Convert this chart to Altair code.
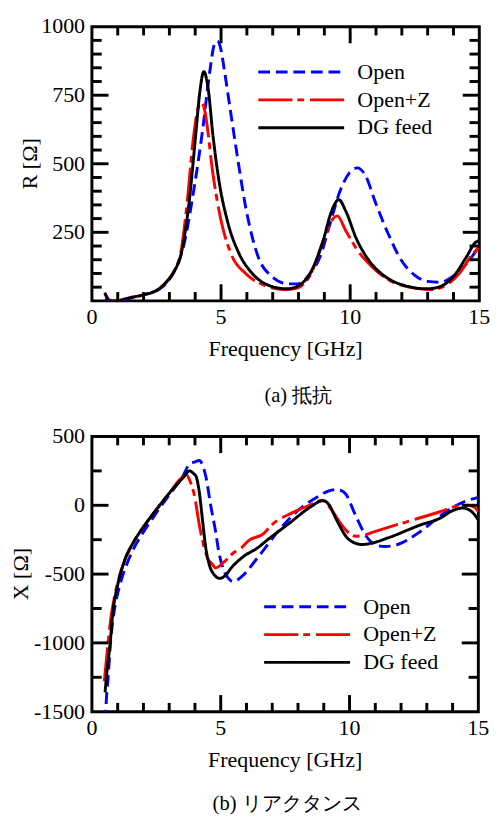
import altair as alt
import pandas as pd

FONT = "'Liberation Serif', 'Times New Roman', 'DejaVu Serif', serif"
SERIES = ["Open", "Open+Z", "DG feed"]
COLORS = ["#0000ff", "#ff0000", "#000000"]
DASHES = [[12, 6], [35, 5, 7, 6], [1, 0]]

# ---- panel (a): resistance R [Ohm] ----
A_OPEN_F = [0.5, 1.0, 1.5, 2.0, 2.6, 3.17, 3.55, 3.93, 4.3, 4.56, 4.74, 4.86, 5.0, 5.12, 5.44, 5.69, 5.94, 6.44, 6.95, 7.58, 7.95, 8.46, 8.83, 9.21, 9.59, 9.97, 10.28, 10.6, 10.97, 11.48, 11.98, 12.48, 12.99, 13.49, 13.99, 14.5, 15.0]
A_OPEN_R = [5, 0, 10, 22, 42, 105, 200, 396, 633, 834, 935, 948, 915, 846, 645, 491, 349, 160, 90, 62, 62, 101, 160, 278, 396, 467, 485, 455, 361, 243, 148, 95, 71, 68, 90, 135, 200]
A_OPENZ_F = [0.5, 0.75, 1.0, 1.5, 2.0, 2.6, 3.0, 3.2, 3.45, 3.7, 3.92, 4.1, 4.23, 4.33, 4.43, 4.68, 4.93, 5.44, 5.94, 6.69, 7.45, 7.95, 8.46, 8.96, 9.34, 9.5, 9.84, 10.34, 10.85, 11.48, 12.23, 13.11, 13.74, 14.24, 14.75, 15.0]
A_OPENZ_R = [25, -5, 0, 12, 22, 44, 82, 112, 180, 370, 586, 700, 724, 710, 660, 467, 325, 160, 101, 56, 41, 47, 95, 219, 300, 310, 254, 177, 124, 77, 51, 41, 59, 101, 172, 195]
A_DG_F = [0.5, 0.75, 1.0, 1.5, 2.0, 2.6, 3.0, 3.2, 3.45, 3.75, 4.0, 4.18, 4.33, 4.5, 4.68, 4.93, 5.25, 5.7, 6.2, 6.95, 7.55, 7.95, 8.45, 8.95, 9.27, 9.56, 9.84, 10.22, 10.72, 11.35, 12.0, 13.0, 13.5, 14.0, 14.5, 14.85, 15.0]
A_DG_R = [30, -5, 0, 12, 22, 44, 82, 110, 170, 349, 586, 763, 836, 775, 609, 432, 290, 172, 101, 53, 44, 53, 101, 219, 325, 369, 325, 231, 148, 89, 59, 44, 53, 89, 160, 213, 220]

# ---- panel (b): reactance X [Ohm] ----
B_OPEN_F = [0.5, 0.55, 0.63, 0.72, 0.82, 1.0, 1.14, 1.52, 2.02, 2.53, 3.03, 3.54, 3.79, 4.0, 4.17, 4.3, 4.42, 4.61, 4.8, 4.92, 5.11, 5.3, 5.49, 5.81, 6.44, 7.33, 8.08, 8.84, 9.2, 9.47, 9.7, 9.85, 10.23, 10.61, 10.98, 11.36, 11.87, 12.75, 13.39, 14.02, 14.5, 15.0]
B_OPEN_X = [-1700, -1450, -1250, -1000, -826, -640, -543, -354, -189, -47, 83, 215, 300, 315, 325, 290, 211, 0, -190, -332, -470, -531, -555, -519, -379, -166, -25, 70, 105, 113, 105, 82, -72, -214, -285, -300, -285, -190, -96, -13, 30, 58]
B_OPENZ_F = [0.48, 0.6, 0.75, 0.88, 1.14, 1.64, 2.02, 2.53, 3.03, 3.4, 3.66, 3.8, 3.98, 4.17, 4.36, 4.5, 4.67, 4.8, 5.11, 5.5, 5.81, 6.06, 6.69, 6.94, 7.83, 8.59, 8.9, 9.22, 9.6, 9.97, 10.23, 10.5, 11.0, 12.25, 13.51, 14.2, 14.6, 14.85, 15.0]
B_OPENZ_X = [-1280, -1050, -800, -661, -472, -260, -150, -24, 94, 185, 223, 180, 70, -143, -308, -390, -427, -455, -415, -345, -308, -260, -202, -150, -50, 12, 35, -12, -118, -201, -225, -220, -190, -118, -47, -5, 0, -15, -45]
B_DG_F = [0.51, 0.6, 0.7, 0.8, 1.0, 1.25, 1.64, 2.02, 2.53, 3.03, 3.54, 3.79, 3.95, 4.04, 4.17, 4.3, 4.42, 4.55, 4.75, 4.96, 5.18, 5.43, 5.9, 6.44, 6.69, 7.7, 8.46, 8.97, 9.22, 9.47, 9.98, 10.48, 10.86, 11.49, 12.75, 13.51, 14.02, 14.4, 14.7, 15.0]
B_DG_X = [-1360, -1180, -1020, -800, -580, -410, -260, -153, -24, 94, 201, 250, 230, 211, 94, -119, -308, -427, -505, -531, -510, -450, -370, -308, -270, -125, -15, 34, 0, -96, -249, -285, -275, -237, -143, -94, -37, -20, -40, -106]

X_LABELS = [0, 5, 10, 15]
X_MAJOR = [5, 10]
X_MINOR = [1, 2, 3, 4, 6, 7, 8, 9, 11, 12, 13, 14]

A_Y_LABELS = [250, 500, 750, 1000]
A_Y_MAJOR = [250, 500, 750]
A_Y_MINOR = [v for v in range(50, 1000, 50) if v % 250 != 0]

B_Y_LABELS = [-1500, -1000, -500, 0, 500]
B_Y_MAJOR = [-1000, -500, 0]
B_Y_MINOR = [-1250, -750, -250, 250]

MAJOR_LEN = 17
MINOR_X_LEN = 9
MINOR_Y_LEN = 10
FS = 22.5


def long_df(parts):
    rows = []
    for name, fs, vs in parts:
        for f, v in zip(fs, vs):
            rows.append({"f": f, "v": v, "s": name})
    return pd.DataFrame(rows)


def panel(df, ytitle, ydom, ylabels, ymajor, yminor, W, H, lx, ly,
          caption, cap_dx, cap_off, ytitle_x):
    xs = alt.Scale(domain=[0, 15], nice=False, zero=False)
    ys = alt.Scale(domain=ydom, nice=False, zero=False)

    leg = alt.Legend(
        title=None, orient="none", legendX=lx, legendY=ly, padding=0,
        symbolType="M-4,0H4", symbolSize=484, symbolStrokeWidth=3,
        labelFont=FONT, labelFontSize=FS, labelColor="black",
        labelOffset=45, rowPadding=4.5, labelLimit=300,
    )
    lines = alt.Chart(df).mark_line(strokeWidth=3, clip=True, interpolate="monotone").encode(
        x=alt.X("f:Q", scale=xs, axis=None),
        y=alt.Y("v:Q", scale=ys, axis=None),
        color=alt.Color("s:N", scale=alt.Scale(domain=SERIES, range=COLORS), legend=leg),
        strokeDash=alt.StrokeDash("s:N", scale=alt.Scale(domain=SERIES, range=DASHES), legend=leg),
    )

    def xticks(vals, length):
        d = pd.DataFrame({"t": vals})
        bottom = alt.Chart(d).mark_rule(color="black", strokeWidth=3).encode(
            x=alt.X("t:Q", scale=xs, axis=None),
            y=alt.value(H), y2=alt.value(H - length))
        top = alt.Chart(d).mark_rule(color="black", strokeWidth=3).encode(
            x=alt.X("t:Q", scale=xs, axis=None),
            y=alt.value(0), y2=alt.value(length))
        return [bottom, top]

    def yticks(vals, length):
        d = pd.DataFrame({"t": vals})
        left = alt.Chart(d).mark_rule(color="black", strokeWidth=3).encode(
            y=alt.Y("t:Q", scale=ys, axis=None),
            x=alt.value(0), x2=alt.value(length))
        right = alt.Chart(d).mark_rule(color="black", strokeWidth=3).encode(
            y=alt.Y("t:Q", scale=ys, axis=None),
            x=alt.value(W), x2=alt.value(W - length))
        return [left, right]

    xl = pd.DataFrame({"t": X_LABELS, "lab": [str(v) for v in X_LABELS]})
    x_labels = alt.Chart(xl).mark_text(
        font=FONT, fontSize=FS, color="black", align="center", baseline="middle"
    ).encode(x=alt.X("t:Q", scale=xs, axis=None), y=alt.value(H + 17), text="lab:N")

    yl = pd.DataFrame({"t": ylabels, "lab": [str(v) for v in ylabels]})
    y_labels = alt.Chart(yl).mark_text(
        font=FONT, fontSize=FS, color="black", align="right", baseline="middle"
    ).encode(y=alt.Y("t:Q", scale=ys, axis=None), x=alt.value(-7), text="lab:N")

    x_title = alt.Chart(pd.DataFrame({"lab": ["Frequency [GHz]"]})).mark_text(
        font=FONT, fontSize=FS, color="black", align="center", baseline="middle"
    ).encode(x=alt.value(W / 2), y=alt.value(H + 50), text="lab:N")

    y_title = alt.Chart(pd.DataFrame({"lab": [ytitle]})).mark_text(
        font=FONT, fontSize=FS, color="black", align="center", baseline="middle", angle=270
    ).encode(x=alt.value(ytitle_x), y=alt.value(H / 2), text="lab:N")

    layers = [lines]
    layers += xticks(X_MAJOR, MAJOR_LEN) + xticks(X_MINOR, MINOR_X_LEN)
    layers += yticks(ymajor, MAJOR_LEN) + yticks(yminor, MINOR_Y_LEN)
    layers += [x_labels, y_labels, x_title, y_title]

    return alt.layer(*layers).properties(
        width=W, height=H,
        title=alt.TitleParams(
            text=caption, orient="bottom", anchor="middle", frame="group",
            font=FONT, fontSize=21, fontWeight="normal", color="black",
            offset=cap_off, dx=cap_dx),
    )


df_a = long_df([("Open", A_OPEN_F, A_OPEN_R), ("Open+Z", A_OPENZ_F, A_OPENZ_R), ("DG feed", A_DG_F, A_DG_R)])
df_b = long_df([("Open", B_OPEN_F, B_OPEN_X), ("Open+Z", B_OPENZ_F, B_OPENZ_X), ("DG feed", B_DG_F, B_DG_X)])

pa = panel(df_a, "R [Ω]", [0, 1000], A_Y_LABELS, A_Y_MAJOR, A_Y_MINOR,
           397, 281, 202, 34, "(a)  抵抗", 13, 25, -63)
pb = panel(df_b, "X [Ω]", [-1500, 500], B_Y_LABELS, B_Y_MAJOR, B_Y_MINOR,
           396, 282, 208, 162, "(b)  リアクタンス", 2, 22, -73)

chart = alt.vconcat(alt.hconcat(pa), alt.hconcat(pb), spacing=17).resolve_legend(
    color="independent", strokeDash="independent"
).properties(
    padding={"left": 0, "top": -4, "right": 0, "bottom": 0}
).configure_view(stroke="black", strokeWidth=3)

chart.save("out.html", embed_options={"renderer": "svg", "actions": False})
